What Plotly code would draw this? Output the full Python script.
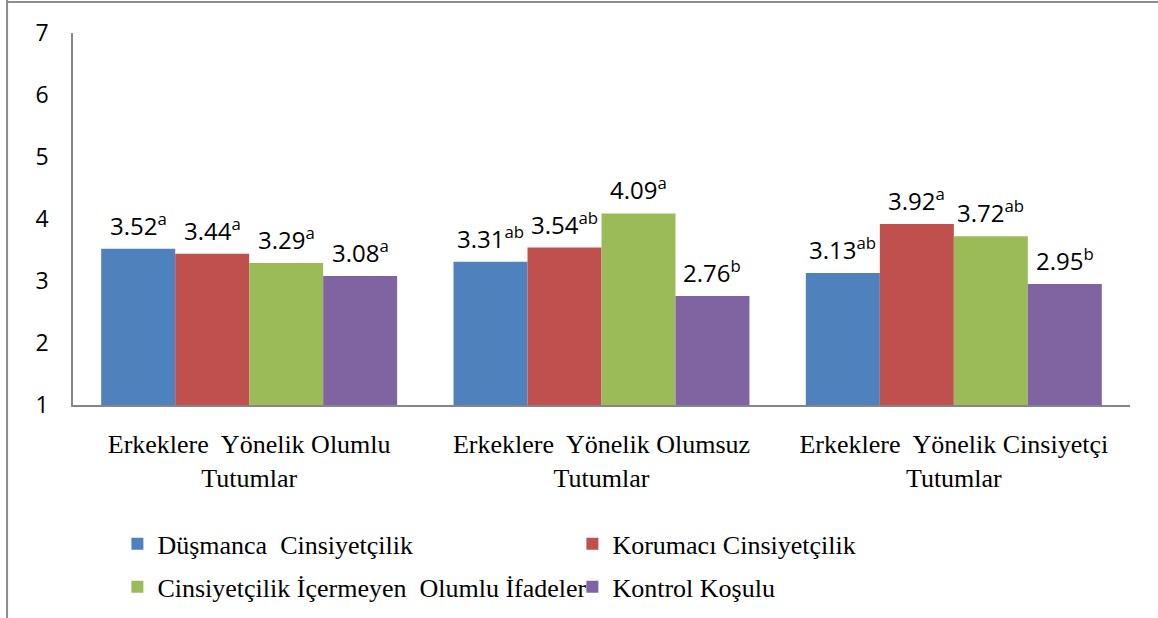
import plotly.graph_objects as go

categories = ["Erkeklere&nbsp; Yönelik Olumlu<br>Tutumlar",
              "Erkeklere&nbsp; Yönelik Olumsuz<br>Tutumlar",
              "Erkeklere&nbsp; Yönelik Cinsiyetçi<br>Tutumlar"]
series_names = ["Düşmanca&nbsp; Cinsiyetçilik",
                "Korumacı Cinsiyetçilik",
                "Cinsiyetçilik İçermeyen&nbsp; Olumlu İfadeler",
                "Kontrol Koşulu"]
dusmanca = [3.52, 3.31, 3.13]
korumaci = [3.44, 3.54, 3.92]
icermeyen = [3.29, 4.09, 3.72]
kontrol = [3.08, 2.76, 2.95]
dusmanca_sig = ["a", "ab", "ab"]
korumaci_sig = ["a", "ab", "a"]
icermeyen_sig = ["a", "a", "ab"]
kontrol_sig = ["a", "b", "b"]
y_ticks = [1, 2, 3, 4, 5, 6, 7]

colors = ["#4F81BD", "#C0504D", "#9BBB59", "#8064A2"]
values = [dusmanca, korumaci, icermeyen, kontrol]
sigs = [dusmanca_sig, korumaci_sig, icermeyen_sig, kontrol_sig]
legend_ids = ["legend", "legend", "legend2", "legend2"]

bargap = 0.16
fig = go.Figure()
for name, vals, col, lg in zip(series_names, values, colors, legend_ids):
    fig.add_trace(go.Bar(name=name, x=categories, y=vals, marker_color=col,
                         marker_line_width=0, legend=lg))

n = len(values)
w = (1 - bargap) / n
for si, (vals, sg) in enumerate(zip(values, sigs)):
    for gi, (v, s) in enumerate(zip(vals, sg)):
        fig.add_annotation(x=gi + (si - (n - 1) / 2) * w, y=v, xref="x", yref="y",
                           text=f"{v:.2f}<sup>{s}</sup>", showarrow=False,
                           yanchor="bottom", yshift=5,
                           font=dict(family="Open Sans", size=24, color="#000"))

# outer frame lines
fig.add_shape(type="line", xref="paper", yref="paper", x0=-0.0624, x1=-0.0624,
              y0=-0.6, y1=1.09, line=dict(color="#8c8c8c", width=2))
fig.add_shape(type="line", xref="paper", yref="paper", x0=-0.0624, x1=1.05,
              y0=1.083, y1=1.083, line=dict(color="#8c8c8c", width=2))

legend_common = dict(orientation="h", xanchor="left", yanchor="top",
                     entrywidth=410, entrywidthmode="pixels",
                     font=dict(family="Liberation Serif", size=26, color="#000"),
                     itemclick=False, traceorder="normal",
                     bgcolor="rgba(0,0,0,0)")

fig.update_layout(
    width=1158, height=618,
    margin=dict(l=73, r=28, t=33, b=213, autoexpand=False),
    barmode="group", bargap=bargap, bargroupgap=0,
    plot_bgcolor="white", paper_bgcolor="white",
    showlegend=True,
    legend=dict(x=0.042, y=-0.31, **legend_common),
    legend2=dict(x=0.042, y=-0.426, **legend_common),
    xaxis=dict(showline=True, linecolor="#868686", linewidth=1.5, ticks="",
               tickfont=dict(family="Liberation Serif", size=26, color="#000"),
               ticklabelstandoff=15),
    yaxis=dict(range=[1, 7], tickvals=y_ticks, showgrid=False, zeroline=False,
               showline=True, linecolor="#868686", linewidth=1.5, ticks="",
               tickfont=dict(family="Open Sans", size=23, color="#000"),
               ticklabelstandoff=18),
)

fig.write_html("out.html", config={"displayModeBar": False},
               post_script="document.body.style.margin='0';document.body.style.overflow='hidden';")
